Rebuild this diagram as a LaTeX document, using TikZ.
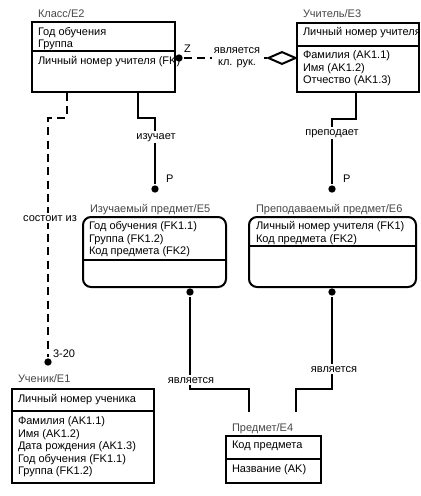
\documentclass[tikz,border=0pt]{standalone}
\usepackage{fontspec}
\setmainfont{Liberation Sans}
\usetikzlibrary{fit,calc,shapes.geometric}
\begin{document}
\begin{tikzpicture}[x=0.75pt,y=-0.75pt,line width=1.5pt,
  ent/.style={draw,inner sep=0pt,line width=1.5pt},
  rent/.style={ent,rounded corners=6pt},
  txt/.style={anchor=base west,inner sep=0pt,font=\fontsize{8.25}{10}\selectfont},
  ttl/.style={txt,text=black!72},
  lbl/.style={anchor=base,inner sep=1.2pt,fill=white,font=\fontsize{8.25}{10}\selectfont},
  dot/.style={circle,fill=black,draw=none,inner sep=0pt,minimum size=5.5pt},
  dsh/.style={dash pattern=on 6pt off 4pt}]
\fill[white] (0,0) rectangle (421,496);
\useasboundingbox (0,0) rectangle (421,496);
% entities
\node[ent,fit={(32,22)(175,92)}] (e2) {};
\draw ($(e2.north west)+(0,30)$) -- ($(e2.north east)+(0,30)$);
\node[ent,fit={(297,23)(419,92)}] (e3) {};
\draw ($(e3.north west)+(0,24)$) -- ($(e3.north east)+(0,24)$);
\node[rent,fit={(83,217)(226,287)}] (e5) {};
\draw ($(e5.north west)+(0,44)$) -- ($(e5.north east)+(0,44)$);
\node[rent,fit={(249,217)(416,287)}] (e6) {};
\draw ($(e6.north west)+(0,30)$) -- ($(e6.north east)+(0,30)$);
\node[ent,fit={(12,389)(154,483)}] (e1) {};
\draw ($(e1.north west)+(0,23)$) -- ($(e1.north east)+(0,23)$);
\node[ent,fit={(226,436)(321,483)}] (e4) {};
\draw ($(e4.north west)+(0,24)$) -- ($(e4.north east)+(0,24)$);
% titles
\node[ttl] (t2) at (37,17) {Класс/E2};
\node[ttl] (t3) at (302,17) {Учитель/E3};
\node[ttl] (t5) at (89,212) {Изучаемый предмет/E5};
\node[ttl] (t6) at (255,212) {Преподаваемый предмет/E6};
\node[ttl] (t1) at (17,382) {Ученик/E1};
\node[ttl] (t4) at (231,431) {Предмет/E4};
% attributes
\node[txt] (a21) at (37,35) {Год обучения};
\node[txt] (a22) at (37,47) {Группа};
\node[txt] (a23) at (37,64) {Личный номер учителя (FK)};
\node[txt] (a31) at (302,36) {Личный номер учителя};
\node[txt] (a32) at (302,58) {Фамилия (AK1.1)};
\node[txt] (a33) at (302,71) {Имя (AK1.2)};
\node[txt] (a34) at (302,83) {Отчество (AK1.3)};
\node[txt] (a51) at (88,229) {Год обучения (FK1.1)};
\node[txt] (a52) at (88,242) {Группа (FK1.2)};
\node[txt] (a53) at (88,254) {Код предмета (FK2)};
\node[txt] (a61) at (255,229) {Личный номер учителя (FK1)};
\node[txt] (a62) at (255,242) {Код предмета (FK2)};
\node[txt] (a11) at (17,402) {Личный номер ученика};
\node[txt] (a12) at (17,424) {Фамилия (AK1.1)};
\node[txt] (a13) at (17,437) {Имя (AK1.2)};
\node[txt] (a14) at (17,449) {Дата рождения (AK1.3)};
\node[txt] (a15) at (17,462) {Год обучения (FK1.1)};
\node[txt] (a16) at (17,474) {Группа (FK1.2)};
\node[txt] (a41) at (231,448) {Код предмета};
\node[txt] (a42) at (231,472) {Название (AK)};
% dots and diamond
\node[dot] (dz) at (179,58) {};
\node[draw,diamond,aspect=2.3,minimum width=21pt,minimum height=9.5pt,inner sep=0pt] (dia) at (282,58) {};
\node[dot] (dizu) at (155,189) {};
\node[dot] (dprep) at (332,189) {};
\node[dot] (dsost) at (48,362) {};
\node[dot] (d5) at (190,292) {};
\node[dot] (d6) at (332,292) {};
\coordinate (f5) at ($(e4.north west)+(24,-23)$);
\coordinate (f6) at ($(e4.north west)+(71,-23)$);
% connectors
\draw[dsh] (dz) -- (dia.west);
\draw ($(e2.south west)+(107,0)$) -- ++(0,25) -| (dizu);
\draw[dsh] ($(e2.south west)+(36,0)$) -- ++(0,25) -| (dsost);
\draw ($(e3.south west)+(60,0)$) -- ++(0,26) -| (dprep);
\draw (d5) -- ++(0,97) -| (f5);
\draw (d6) -- ++(0,97) -| (f6);
% labels
\node[lbl,align=center] (lz) at (237,65) {является\\[-1.5pt]кл. рук.};
\node[txt] (lZ) at (183,52) {Z};
\node[lbl] (lizu) at (156,139) {изучает};
\node[txt] (lp1) at (165,182) {P};
\node[lbl] (lprep) at (332,135) {преподает};
\node[txt] (lp2) at (342,182) {P};
\node[lbl] (lsost) at (50,221) {состоит из};
\node[txt] (l320) at (52,357) {3-20};
\node[lbl] (lyav1) at (191,383) {является};
\node[lbl] (lyav2) at (334,372) {является};
\end{tikzpicture}
\end{document}
